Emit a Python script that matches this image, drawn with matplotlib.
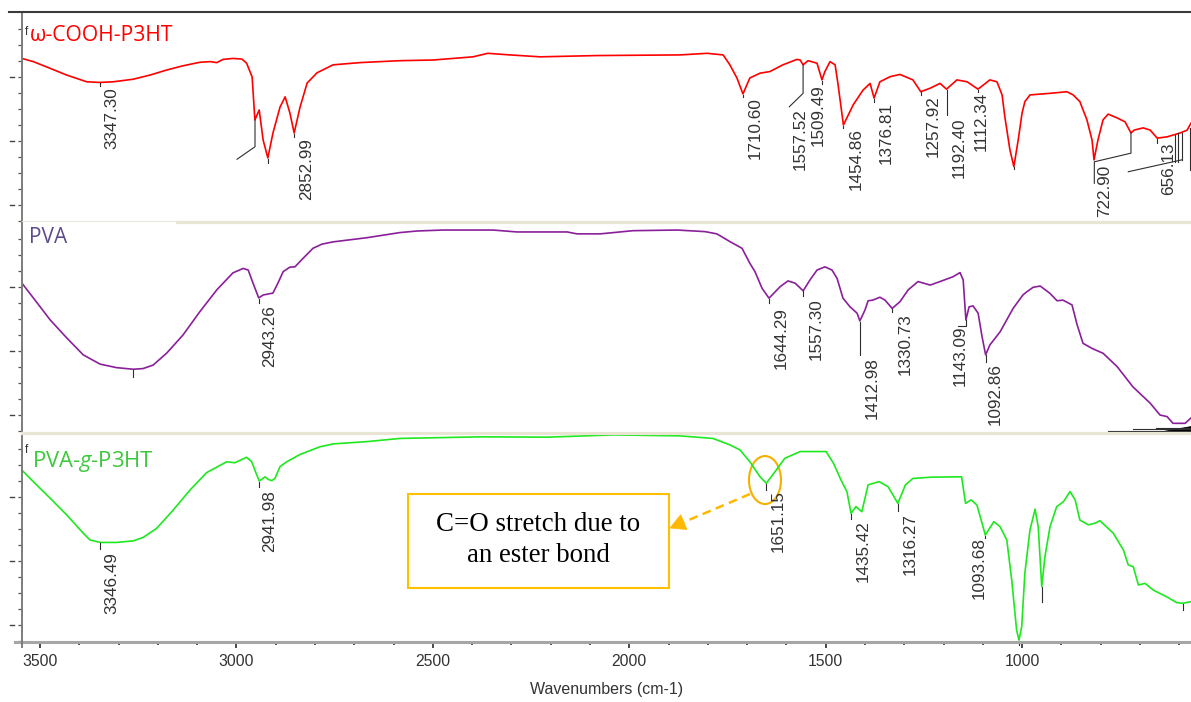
import numpy as np
import matplotlib
matplotlib.use("Agg")
import matplotlib.pyplot as plt
from matplotlib.lines import Line2D
from matplotlib.patches import Rectangle, Ellipse, Polygon
from matplotlib.ticker import MultipleLocator, FixedLocator

plt.rcParams['font.family'] = ['Liberation Sans', 'DejaVu Sans']
plt.rcParams['mathtext.fontset'] = 'custom'
plt.rcParams['mathtext.rm'] = 'Open Sans'
plt.rcParams['mathtext.it'] = 'Open Sans:italic'

# ---------------- spectra (wavenumber cm-1, transmittance) ----------------
cooh_wn = np.array([3546, 3517, 3474, 3432, 3381, 3347.30, 3314, 3263, 3220, 3177, 3136, 3093, 3067,
                    3050, 3034, 3009, 2986, 2974, 2960, 2953, 2942, 2932, 2920, 2907, 2889, 2876, 2864,
                    2852.99, 2838, 2820, 2795, 2754, 2685, 2584, 2500, 2398, 2360, 2304, 2227, 2082,
                    1871, 1802, 1761, 1744, 1726, 1710.60, 1693, 1667, 1642, 1609, 1573, 1565, 1557.52,
                    1545, 1522, 1509.49, 1502, 1489, 1476, 1469, 1454.86, 1430, 1405, 1387, 1376.81,
                    1362, 1336, 1311, 1278, 1257.92, 1234, 1209, 1192.40, 1166, 1140, 1112.34, 1082,
                    1064, 1051, 1044, 1031, 1021, 1010, 1000, 993, 980, 929, 886, 870, 853, 835, 822,
                    817, 807, 794, 781, 758, 738, 722.90, 715, 692, 674, 656.13, 631, 598, 580, 570])
cooh_t = np.array([85.8, 84.8, 82.7, 80.6, 78.5, 78.3, 78.5, 79.3, 80.6, 82.2, 83.5, 84.6, 84.8,
                   84.5, 85.5, 85.8, 85.6, 84.3, 80.0, 66.6, 69.7, 60.3, 54.7, 62.5, 70.6, 73.8, 68.8,
                   62.5, 70.6, 78.1, 81.3, 83.8, 84.5, 85.1, 85.3, 86.3, 87.4, 86.9, 86.3, 86.7,
                   86.9, 87.4, 86.9, 83.8, 79.7, 74.7, 79.7, 81.2, 81.7, 83.8, 85.5, 85.3, 83.8,
                   85.1, 84.3, 79.1, 81.7, 84.8, 83.8, 78.1, 65.0, 71.3, 75.9, 78.0, 73.4,
                   78.5, 80.1, 80.8, 79.1, 75.4, 76.5, 78.0, 76.2, 79.1, 78.5, 76.2, 79.1,
                   78.5, 74.4, 67.6, 57.2, 52.0, 60.3, 68.8, 72.3, 74.4, 74.9, 75.4, 74.4, 72.3, 66.6, 60.3,
                   54.1, 60.3, 66.6, 68.4, 67.2, 66.0, 62.5, 63.4, 64.1, 63.4, 60.9, 61.3, 62.5, 63.4, 65.6])

pva_wn = np.array([3546, 3517, 3474, 3432, 3390, 3347, 3305, 3262.5, 3238, 3212, 3177, 3136, 3093,
                   3050, 3009, 2983, 2970, 2958, 2943.26, 2932, 2907, 2894, 2881, 2864, 2851, 2830,
                   2805, 2782, 2754, 2668, 2584, 2540, 2474, 2347, 2286, 2158, 2133, 2074, 1990, 1878,
                   1807, 1777, 1744, 1713, 1693, 1680, 1662, 1644.29, 1616, 1596, 1578, 1557.30, 1540,
                   1522, 1502, 1484, 1471, 1456, 1438, 1420, 1412.98, 1400, 1392, 1380, 1362, 1349,
                   1330.73, 1311, 1290, 1265, 1234, 1209, 1176, 1158, 1150, 1146, 1143.09, 1135, 1125,
                   1112, 1102, 1092.86, 1082, 1056, 1023, 998, 988, 972, 954, 929, 911, 896, 873, 860,
                   845, 822, 809, 794, 758, 718, 674, 649, 631, 616, 598, 585, 570])
pva_t = np.array([81.2, 76.6, 69.7, 64.1, 58.8, 55.9, 54.8, 54.3, 54.5, 55.6, 59.4, 65.0, 72.3,
                  79.1, 84.4, 85.8, 85.3, 81.3, 76.6, 77.5, 78.1, 81.3, 84.8, 86.2, 86.3, 89.0,
                  92.1, 93.4, 94.1, 95.4, 97.0, 97.5, 97.8, 97.8, 97.2, 97.2, 96.6, 96.6, 97.6, 97.8,
                  97.3, 96.6, 94.2, 92.1, 87.4, 84.8, 79.6, 76.5, 80.1, 81.9, 81.2, 78.8, 82.2,
                  85.3, 86.3, 85.3, 82.7, 76.5, 73.8, 71.8, 69.4, 72.8, 75.7, 75.9, 76.8, 75.9,
                  73.3, 75.4, 79.1, 81.7, 80.6, 81.7, 83.2, 84.5, 82.2, 74.9, 69.7, 73.8, 74.1,
                  71.8, 64.5, 58.8, 61.9, 66.0, 73.3, 77.5, 78.5, 79.9, 80.3, 78.0, 75.7, 75.9, 74.4, 68.2,
                  62.4, 60.8, 60.1, 59.3, 55.1, 48.8, 43.7, 40.0, 39.5, 37.4, 37.4, 37.4, 39.1])

graft_wn = np.array([3546, 3517, 3474, 3432, 3390, 3373, 3346.49, 3305, 3262, 3237, 3203, 3161, 3118,
                     3076, 3025, 3004, 2974, 2961, 2953, 2941.98, 2936, 2927, 2919, 2910, 2902, 2889,
                     2872, 2838, 2787, 2753, 2668, 2584, 2380, 2209, 2041, 1871, 1787, 1744, 1718,
                     1693, 1667, 1651.15, 1629, 1604, 1565, 1548, 1499, 1480, 1461, 1446, 1435.42,
                     1423, 1408, 1392, 1364, 1341, 1316.27, 1297, 1278, 1230, 1154, 1144, 1130, 1115,
                     1093.68, 1072, 1056, 1039, 1026.5, 1014, 1008, 1001, 993, 980, 967, 959, 950, 942,
                     929, 912, 895, 878, 865, 853, 831.5, 814.5, 802, 768, 742, 730, 717, 704, 687, 666,
                     632, 606.5, 591, 570])
graft_t = np.array([88.4, 84.8, 79.6, 74.4, 68.7, 66.6, 65.8, 65.8, 66.3, 67.4, 70.2, 75.9, 82.2,
                    87.6, 91.0, 90.7, 92.4, 91.0, 88.4, 85.0, 85.5, 86.3, 85.5, 85.1, 85.8, 89.5,
                    91.0, 93.3, 95.7, 96.6, 97.3, 98.3, 98.8, 98.7, 99.4, 99.1, 98.3, 96.3, 94.7,
                    91.0, 86.3, 84.3, 87.9, 92.1, 94.2, 94.2, 94.2, 90.5, 85.3, 81.7, 74.9,
                    77.0, 75.4, 83.8, 84.8, 83.2, 78.0, 83.8, 85.8, 86.2, 86.3, 78.0, 79.1, 77.5,
                    68.1, 72.3, 70.7, 66.6, 54.1, 38.4, 35.3, 39.5, 56.2, 69.7, 76.2, 70.7, 52.0, 61.3,
                    70.7, 77.0, 78.5, 81.7, 79.1, 72.8, 71.3, 71.8, 72.6, 68.7, 63.4, 58.8, 58.2, 52.5,
                    53.0, 50.9, 48.8, 47.0, 46.8, 47.3])

# labelled peak positions (cm-1)
cooh_peaks = [3347.30, 2852.99, 1710.60, 1557.52, 1509.49, 1454.86, 1376.81,
              1257.92, 1192.40, 1112.34, 722.90, 656.13]
pva_peaks = [2943.26, 1644.29, 1557.30, 1412.98, 1330.73, 1143.09, 1092.86]
graft_peaks = [3346.49, 2941.98, 1651.15, 1435.42, 1316.27, 1093.68]

x_major = [3500, 3000, 2500, 2000, 1500, 1000]
y_major = [40, 60, 80]
y_minor = [35, 45, 50, 55, 65, 70, 75, 85, 90, 95]

panel_names = ["\u03c9-COOH-P3HT", "PVA", "PVA-$\\mathit{g}$-P3HT"]

# ---------------- layout ----------------
FIG_W, FIG_H, DPI = 1191, 702, 100
WN_LEFT, WN_RIGHT = 3545.8, 570.1
T_LO, T_HI = 34.69, 100.31
PANEL_LEFT, PANEL_H = 22, 210
panel_tops = [12, 222, 432]

TEXT_GRAY = '#333333'
MARK_GRAY = '#2e2e2e'
LABEL_SIZE = 12.3

# label placement for each peak: (label x, label top, tick length)
cooh_layout = {3347.30: (3316.7, 76.9, 1.0), 2852.99: (2821.6, 60.9, 1.2),
               1710.60: (1679.9, 73.75, 1.1), 1557.52: (1565.4, 70.3, 0),
               1509.49: (1519.6, 77.8, 1.2), 1454.86: (1421.1, 64.1, 1.0),
               1376.81: (1346.5, 72.2, 1.2), 1257.92: (1226.9, 74.4, 1.0),
               1192.40: (1160.7, 67.2, 8.0), 1112.34: (1104.7, 75.3, 0.9),
               722.90: (789.0, 52.5, 0), 656.13: (626.1, 59.4, 1.5)}
pva_layout = {2943.26: (2914.5, 74.4, 1.5), 1644.29: (1612.0, 73.8, 1.5),
              1557.30: (1524.7, 76.6, 1.5), 1412.98: (1382.1, 58.2, 10.6),
              1330.73: (1298.1, 71.9, 1.0), 1143.09: (1158.1, 68.1, 0),
              1092.86: (1067.8, 56.25, 2.1)}
graft_layout = {3346.49: (3316.7, 62.9, 1.9), 2941.98: (2914.5, 82.2, 1.8),
                1651.15: (1621.4, 82.2, 2.1), 1435.42: (1405.5, 72.8, 1.8),
                1316.27: (1285.4, 75.0, 2.3), 1093.68: (1108.5, 67.6, 1.0)}

fig = plt.figure(figsize=(FIG_W / DPI, FIG_H / DPI), dpi=DPI, facecolor='white')


def fx(px):
    return px / FIG_W


def fy(py):
    return 1.0 - py / FIG_H


def fig_line(xs, ys, **kw):
    fig.add_artist(Line2D([fx(x) for x in xs], [fy(y) for y in ys],
                          transform=fig.transFigure, **kw))


def make_panel(top):
    ax = fig.add_axes([fx(PANEL_LEFT), fy(top + PANEL_H), 1 - fx(PANEL_LEFT), PANEL_H / FIG_H])
    ax.set_xlim(WN_LEFT, WN_RIGHT)
    ax.set_ylim(T_LO, T_HI)
    ax.patch.set_alpha(0)
    for s in ('top', 'right', 'bottom'):
        ax.spines[s].set_visible(False)
    ax.spines['left'].set_color('#7d7d7d')
    ax.spines['left'].set_linewidth(1.4)
    ax.yaxis.set_major_locator(FixedLocator(y_major))
    ax.yaxis.set_minor_locator(FixedLocator(y_minor))
    ax.tick_params(axis='y', which='both', direction='out', length=3.2, width=0.9,
                   color='#555555', labelleft=False)
    ax.tick_params(axis='x', which='both', bottom=False, labelbottom=False)
    for v in y_major:
        ax.plot([-0.0103, -0.0070], [v, v], transform=ax.get_yaxis_transform(),
                color='#444444', lw=1.0, clip_on=False)
    return ax


def mark_peaks(ax, wn, t, peaks, layout):
    for p in peaks:
        lx, ly, L = layout[p]
        y0 = np.interp(p, wn[::-1], t[::-1])
        if L:
            ax.plot([p, p], [y0 - 0.2, y0 - L], color=MARK_GRAY, lw=0.8, clip_on=False)
        ax.text(lx, ly, f"{p:.2f}", rotation=90, ha='center', va='top',
                fontsize=LABEL_SIZE, color=TEXT_GRAY)


def tick_at(ax, wn, t, p, L):
    y0 = np.interp(p, wn[::-1], t[::-1])
    ax.plot([p, p], [y0 - 0.2, y0 - L], color=MARK_GRAY, lw=0.8, clip_on=False)


def leader(ax, pts):
    ax.plot([q[0] for q in pts], [q[1] for q in pts], color=MARK_GRAY, lw=0.8, clip_on=False)


ax1, ax2, ax3 = [make_panel(t) for t in panel_tops]

# ---- top: omega-COOH-P3HT ----
ax1.plot(cooh_wn, cooh_t, color='#ff0000', lw=1.2)
mark_peaks(ax1, cooh_wn, cooh_t, cooh_peaks, cooh_layout)
tick_at(ax1, cooh_wn, cooh_t, 2920, 1.5)
tick_at(ax1, cooh_wn, cooh_t, 1021, 0.9)
leader(ax1, [(2952.7, 66.6), (2952.7, 58.2), (2998.5, 54.3)])
leader(ax1, [(1557.52, 83.75), (1557.52, 74.9), (1592.6, 70.7)])
leader(ax1, [(722.90, 62.5), (722.90, 56.2), (816.2, 53.5), (816.2, 46.8)])
leader(ax1, [(729.7, 50.4), (593.8, 54.1)])
leader(ax1, [(610.8, 61.9), (610.8, 53.4)])
leader(ax1, [(603.2, 62.5), (603.2, 53.4)])
leader(ax1, [(593.8, 62.5), (593.8, 54.1)])
leader(ax1, [(572.7, 64.1), (572.7, 50.9)])

# ---- middle: PVA ----
ax2.plot(pva_wn, pva_t, color='#8a1f9a', lw=1.2)
mark_peaks(ax2, pva_wn, pva_t, pva_peaks, pva_layout)
tick_at(ax2, pva_wn, pva_t, 3262.5, 2.3)
leader(ax2, [(1143.09, 69.7), (1143.09, 67.8), (1163.2, 67.8)])
for x0, yv in [(781.4, 35.1), (717.7, 35.5), (660.0, 36.0)]:
    leader(ax2, [(x0, yv), (570.1, yv)])
ax2.add_patch(Polygon([(641.4, 35.0), (570.1, 35.0), (570.1, 36.6)], closed=True,
                      facecolor='black', edgecolor='black', lw=0.6, clip_on=False))

# ---- bottom: PVA-g-P3HT ----
ax3.plot(graft_wn, graft_t, color='#1ee81e', lw=1.2)
mark_peaks(ax3, graft_wn, graft_t, graft_peaks, graft_layout)
tick_at(ax3, graft_wn, graft_t, 1008, 1.5)
tick_at(ax3, graft_wn, graft_t, 950, 4.7)
tick_at(ax3, graft_wn, graft_t, 591, 2.1)

ax3.spines['bottom'].set_visible(True)
ax3.spines['bottom'].set_color('#a6a6a6')
ax3.spines['bottom'].set_linewidth(2.2)
ax3.xaxis.set_major_locator(FixedLocator(x_major))
ax3.xaxis.set_minor_locator(MultipleLocator(100))
ax3.tick_params(axis='x', which='major', bottom=True, labelbottom=True, direction='out',
                length=4.3, width=1.3, color='#3a3a3a', labelsize=11.3,
                labelcolor=TEXT_GRAY, pad=4)
ax3.tick_params(axis='x', which='minor', bottom=True, direction='out',
                length=1.8, width=1.3, color='#3a3a3a')
ax3.set_xlabel("Wavenumbers (cm-1)", fontsize=11.5, color=TEXT_GRAY, labelpad=10)

# annotation around the ester carbonyl band
ax3.add_patch(Ellipse((1654.5, 85.3), 81.5, 15.0, fill=False, edgecolor='#f5b000', lw=1.5))

# ---- frame and separators ----
fig_line([9, FIG_W], [12, 12], color='#3c3c3c', lw=1.5)
fig_line([22, 177], [220.5, 220.5], color='#ece9dc', lw=0.8)
fig_line([177, FIG_W], [221.5, 221.5], color='#e9e5d5', lw=2.3)
fig_line([22, FIG_W], [432.5, 432.5], color='#e9e5d5', lw=2.3)
fig_line([15, 22], [642, 642], color='#a6a6a6', lw=2.2)
fig_line([22, 22], [641, 647], color='#7d7d7d', lw=1.4)

# panel titles
fig.text(fx(30), fy(40.7), panel_names[0], color='#ff0000', fontsize=15.2,
         family=['Open Sans', 'DejaVu Sans'], va='baseline')
fig.text(fx(29), fy(243.3), panel_names[1], color='#5e4b8b', fontsize=15,
         family=['Open Sans', 'DejaVu Sans'], va='baseline')
fig.text(fx(32), fy(467), panel_names[2], color='#3cc83c', fontsize=15.8,
         family=['Open Sans', 'DejaVu Sans'], va='baseline')
for yy in (35, 453):
    fig.text(fx(25), fy(yy), 'f', fontsize=8.5, color=TEXT_GRAY, va='baseline')

# callout box and dashed arrow
fig.add_artist(Rectangle((fx(408), fy(588)), (669 - 408) / FIG_W, (588 - 494) / FIG_H,
                         transform=fig.transFigure, facecolor='white',
                         edgecolor='#ffc000', lw=1.5))
fig.text(fx(538.5), fy(540), "C=O stretch due to\nan ester bond", ha='center', va='center',
         fontsize=19.4, family=['Liberation Serif', 'DejaVu Serif'], color='black',
         linespacing=1.3)
fig_line([750, 684], [494, 522], color='#ffb800', lw=1.8, dashes=[3.5, 2.2])
fig.add_artist(Polygon([(fx(670), fy(528)), (fx(686.9), fy(529.5)), (fx(680.7), fy(514.7))],
                       closed=True, transform=fig.transFigure, facecolor='#ffb800',
                       edgecolor='#ffb800', lw=0.5))

fig.savefig("out.png", dpi=DPI, facecolor='white')
